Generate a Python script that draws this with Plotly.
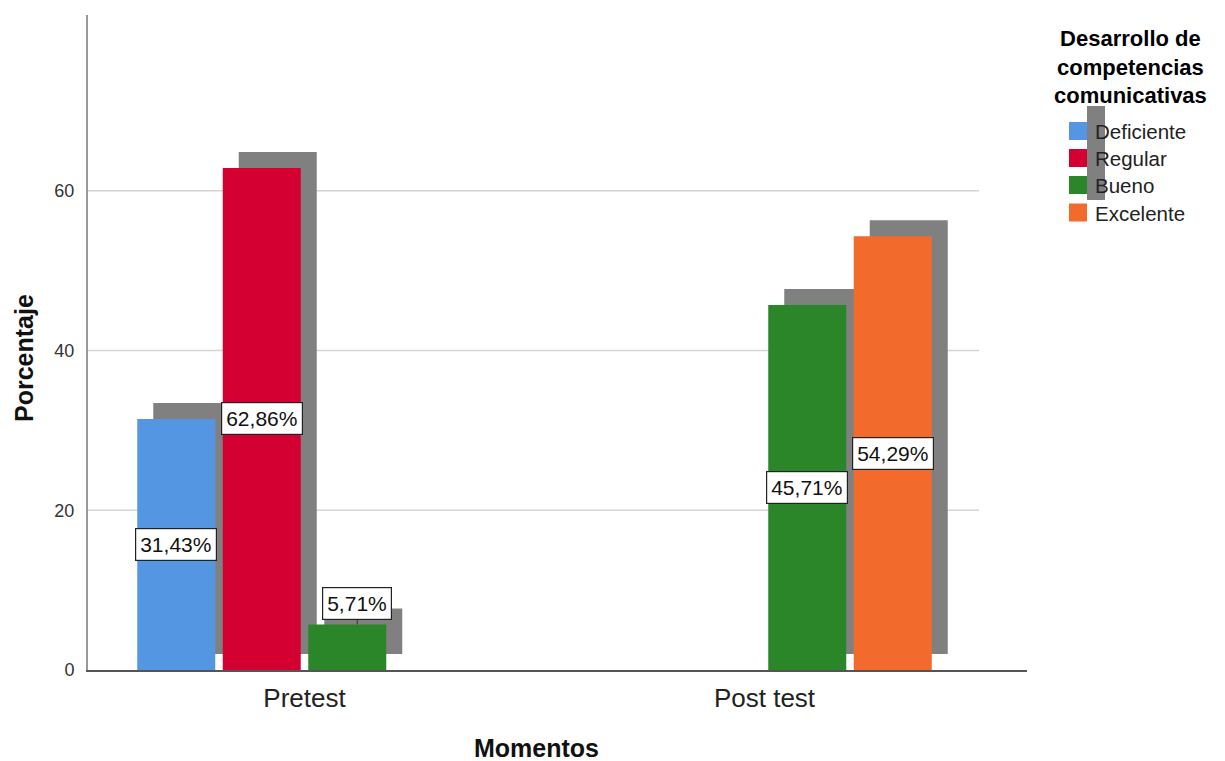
import plotly.graph_objects as go

# ---- data ----
momentos = ["Pretest", "Post test"]
niveles = ["Deficiente", "Regular", "Bueno", "Excelente"]
deficiente = [31.43, 0]
regular = [62.86, 0]
bueno = [5.71, 45.71]
excelente = [0, 54.29]
y_ticks = [0, 20, 40, 60]

series = [deficiente, regular, bueno, excelente]
colores = ["#5596E3", "#D50032", "#2A8629", "#F26A2C"]
sombra = "#808080"

# ---- geometry ----
slot_w = 85.5 / 460
bar_w = 78 / 460
dx = 16 / 460
dy = 2.0

OFF = 8  # page body margin
W, H = 1225 - OFF, 761 - OFF
L, T = 88 - OFF, 15 - OFF
R = W - (1027 - OFF)
B = H - (670 - OFF)
pw, ph = W - L - R, H - T - B


def pxx(p):
    """reference-image x pixel -> paper coordinate"""
    return (p - 88) / pw


def pxy(p):
    """reference-image y pixel -> paper coordinate"""
    return (670 - p) / ph


fig = go.Figure()

# shadows first
for i, vals in enumerate(series):
    xs, ys = [], []
    for g, v in enumerate(vals):
        if v:
            xs.append(g + (i - 1.5) * slot_w + dx)
            ys.append(v)
    fig.add_trace(go.Bar(x=xs, y=ys, base=dy, width=bar_w, marker_color=sombra,
                         marker_line_width=0, showlegend=False, hoverinfo="skip"))

# bars
for i, vals in enumerate(series):
    xs, ys = [], []
    for g, v in enumerate(vals):
        if v:
            xs.append(g + (i - 1.5) * slot_w)
            ys.append(v)
    fig.add_trace(go.Bar(x=xs, y=ys, width=bar_w, marker_color=colores[i],
                         marker_line_width=0, name=niveles[i], showlegend=False))

# value labels
annotations = []
for i, vals in enumerate(series):
    for g, v in enumerate(vals):
        if not v:
            continue
        xc = g + (i - 1.5) * slot_w
        txt = f"{v:.2f}".replace(".", ",") + "%"
        common = dict(xref="x", yref="y", text=txt, bgcolor="white", bordercolor="#222",
                      borderwidth=1.2, borderpad=4, font=dict(size=21, color="#111"))
        if v < 10:
            annotations.append(dict(x=xc + 10 / 460, y=v, showarrow=True, arrowhead=0,
                                    arrowwidth=1, arrowcolor="#333", ax=0, ay=-21, **common))
        else:
            annotations.append(dict(x=xc, y=v / 2, showarrow=False, **common))

# axis titles
annotations.append(dict(x=pxx(536), y=pxy(748), xref="paper", yref="paper", text="<b>Momentos</b>",
                        showarrow=False, xanchor="center", yanchor="middle",
                        font=dict(size=25, color="#111")))
annotations.append(dict(x=pxx(24), y=pxy(358), xref="paper", yref="paper", text="<b>Porcentaje</b>",
                        showarrow=False, xanchor="center", yanchor="middle", textangle=-90,
                        font=dict(size=25, color="#111")))

# legend title (manual, one text block)
annotations.append(dict(x=pxx(1130), y=pxy(67), xref="paper", yref="paper",
                        text="<b>Desarrollo de<br>competencias<br>comunicativas</b>",
                        showarrow=False, xanchor="center", yanchor="middle", align="center",
                        font=dict(size=22, color="#000")))

shapes = []
# gridlines
for t in y_ticks[1:]:
    shapes.append(dict(type="line", xref="paper", yref="y", x0=0, x1=pxx(979), y0=t, y1=t,
                       line=dict(color="#D4D4D4", width=1.5), layer="below"))
# legend shadow column
shapes.append(dict(type="rect", xref="paper", yref="paper", x0=pxx(1087), x1=pxx(1105),
                   y0=pxy(200), y1=pxy(106), fillcolor=sombra, line_width=0))
# legend items
centers = [131, 158, 185, 212.5]
for i, (nm, yc) in enumerate(zip(niveles, centers)):
    shapes.append(dict(type="rect", xref="paper", yref="paper", x0=pxx(1069), x1=pxx(1087),
                       y0=pxy(yc + 9), y1=pxy(yc - 9), fillcolor=colores[i], line_width=0))
    annotations.append(dict(x=pxx(1093), y=pxy(yc + 1), xref="paper", yref="paper", text=nm,
                            showarrow=False, xanchor="left", yanchor="middle",
                            font=dict(size=20.5, color="#222")))

fig.update_layout(
    width=W, height=H,
    margin=dict(l=L, r=R, t=T, b=B),
    paper_bgcolor="white", plot_bgcolor="white",
    barmode="overlay",
    font=dict(family="Liberation Sans, Arial, sans-serif", color="#222"),
    xaxis=dict(range=[-(304.5 - 88) / 460, 1 + (1027 - 764.5) / 460],
               tickvals=[0, 1], ticktext=momentos, showgrid=False, zeroline=False,
               showline=True, linecolor="#555", linewidth=1.5, ticks="",
               ticklabelstandoff=4,
               tickfont=dict(size=26, color="#222")),
    yaxis=dict(range=[0, 82], tickvals=y_ticks, showgrid=False, zeroline=False,
               showline=True, linecolor="#999", linewidth=2, ticks="",
               ticklabelstandoff=8,
               tickfont=dict(size=18, color="#333")),
    shapes=shapes,
    annotations=annotations,
    showlegend=False,
)

fig.write_html("out.html")
